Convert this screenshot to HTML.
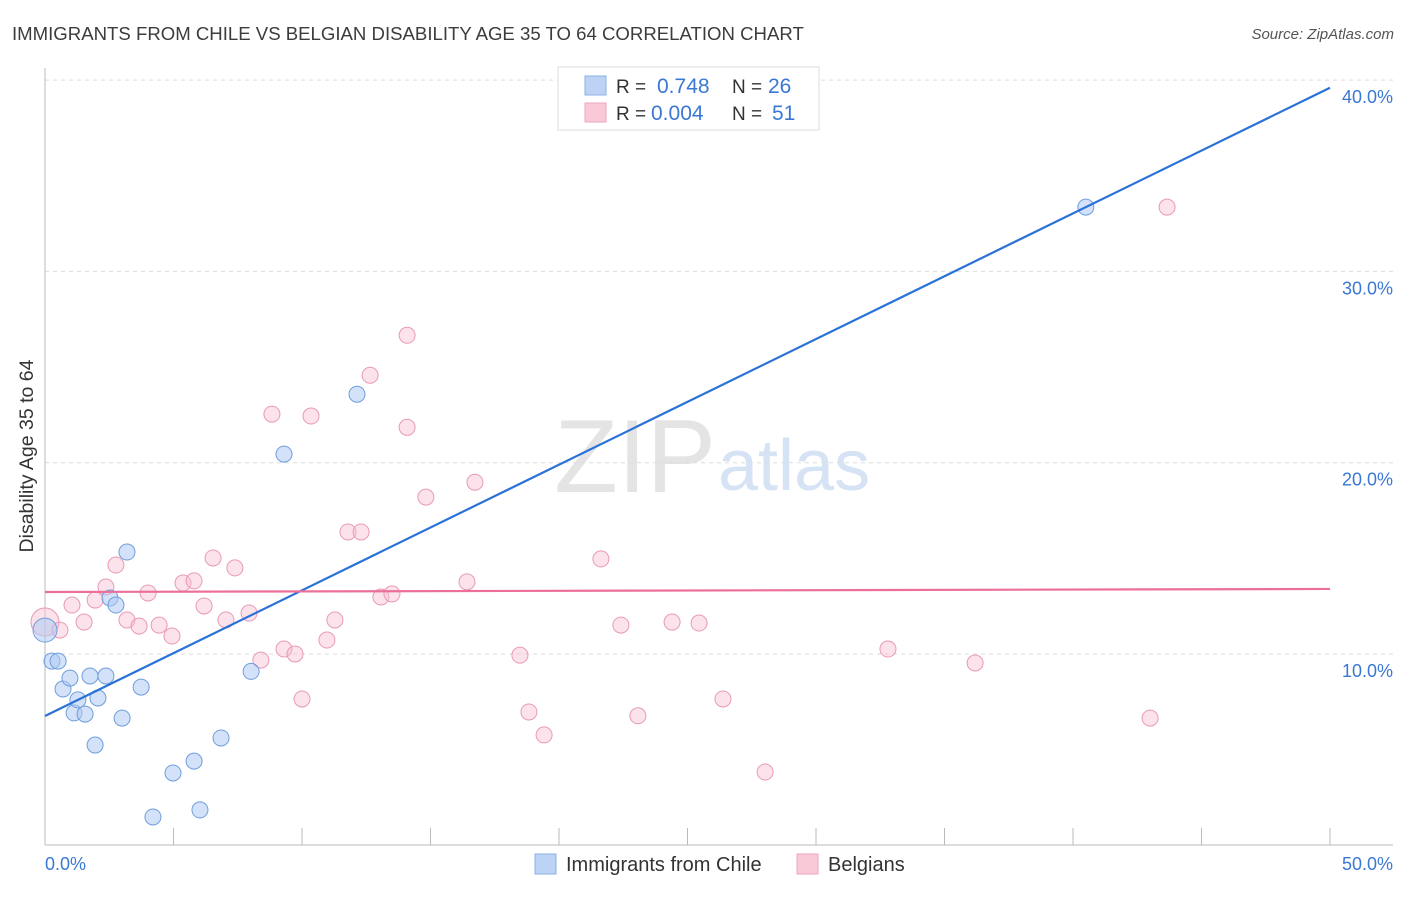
<!DOCTYPE html>
<html><head><meta charset="utf-8"><style>
body{margin:0;background:#fff;font-family:"Liberation Sans",sans-serif;}
svg text{font-family:"Liberation Sans",sans-serif;}
</style></head><body>
<svg id="chart" width="1406" height="892" xmlns="http://www.w3.org/2000/svg">
<text x="12" y="40" font-size="18.6" fill="#3c3c3c">IMMIGRANTS FROM CHILE VS BELGIAN DISABILITY AGE 35 TO 64 CORRELATION CHART</text>
<text x="1394" y="39" font-size="15" fill="#555" text-anchor="end" font-style="italic">Source: ZipAtlas.com</text>
<text x="716" y="492" font-size="104" fill="#e4e4e4" text-anchor="end" font-family="Liberation Serif">ZIP</text>
<text x="718" y="490" font-size="72" fill="#d6e3f5">atlas</text>
<g id="grid"></g>
<line x1="45" y1="68" x2="45" y2="845" stroke="#bbb"/>
<line x1="45" y1="845" x2="1393" y2="845" stroke="#bbb"/>
<text transform="translate(33,456) rotate(-90)" font-size="19.5" fill="#333" text-anchor="middle">Disability Age 35 to 64</text>
<text x="45" y="870" font-size="18" fill="#3a78d4">0.0%</text>
<text x="1393" y="870" font-size="18" fill="#3a78d4" text-anchor="end">50.0%</text>
<g id="points"></g>
<g id="lines"></g>
<g>
<rect x="558" y="67" width="261" height="63" fill="#fff" stroke="#ddd"/>
<rect x="585" y="76" width="21" height="19" fill="#bcd3f5" stroke="#8ab0e4"/>
<rect x="585" y="103" width="21" height="19" fill="#f9c9d8" stroke="#eea6c0"/>
<text x="616" y="93" font-size="19" fill="#333">R = </text><text x="657" y="93" font-size="21" fill="#3a78d4">0.748</text>
<text x="732" y="93" font-size="19" fill="#333">N = </text><text x="768" y="93" font-size="21" fill="#3a78d4">26</text>
<text x="616" y="120" font-size="19" fill="#333">R = </text><text x="651" y="120" font-size="21" fill="#3a78d4">0.004</text>
<text x="732" y="120" font-size="19" fill="#333">N = </text><text x="772" y="120" font-size="21" fill="#3a78d4">51</text>
</g>
<g>
<rect x="535" y="854" width="21" height="20" fill="#bcd3f5" stroke="#8ab0e4"/>
<text x="566" y="871" font-size="20" fill="#333">Immigrants from Chile</text>
<rect x="797" y="854" width="21" height="20" fill="#f9c9d8" stroke="#eea6c0"/>
<text x="828" y="871" font-size="20" fill="#333">Belgians</text>
</g>
</svg>
<script>
const yTicks=[10,20,30,40];
const yTickLabels=["10.0%","20.0%","30.0%","40.0%"];
const xTicks=[0,5,10,15,20,25,30,35,40,45,50];
const chileX=[0,0.27,0.51,0.70,0.97,1.13,1.28,1.56,1.75,1.95,2.06,2.37,2.53,2.76,3.0,3.19,3.74,4.2,4.98,5.8,6.03,6.85,8.02,9.3,12.14,40.5];
const chileY=[11.25,9.63,9.63,8.17,8.74,6.92,7.6,6.86,8.85,5.24,7.7,8.85,12.93,12.56,6.65,15.33,8.27,1.48,3.78,4.4,1.85,5.61,9.09,20.45,23.58,33.36];
const belX=[0,0.58,1.05,1.52,1.95,2.37,2.76,3.19,3.66,4.01,4.44,4.94,5.37,5.8,6.19,6.54,7.04,7.39,7.94,8.4,8.83,9.3,9.73,10.0,10.35,10.97,11.28,11.79,12.3,12.65,13.07,13.5,14.09,14.09,14.82,16.42,16.73,18.48,18.83,19.42,21.63,22.41,23.07,24.4,25.45,26.38,28.02,32.8,36.19,43.0,43.66];
const belY=[11.67,11.25,12.56,11.67,12.82,13.5,14.65,11.78,11.46,13.19,11.51,10.94,13.71,13.82,12.51,15.02,11.78,14.5,12.14,9.68,22.54,10.26,10.0,7.65,22.44,10.73,11.78,16.38,16.38,24.57,12.98,13.14,26.66,21.85,18.2,13.77,18.98,9.94,6.97,5.77,14.97,11.51,6.77,11.67,11.62,7.65,3.83,10.26,9.53,6.65,33.36];
const chileLine=[6.76,39.6];
const belLine=[13.24,13.4];
const NS="http://www.w3.org/2000/svg";
function sx(v){return 45+v*25.7;}
function sy(v){return 845.3-v*19.13;}
function mk(tag,attrs,parent){const e=document.createElementNS(NS,tag);for(const k in attrs)e.setAttribute(k,attrs[k]);parent.appendChild(e);return e;}
const grid=document.getElementById('grid');
yTicks.forEach((t,i)=>{
  const l=mk('line',{x1:45,x2:1393,y1:sy(t),y2:sy(t),stroke:'#ddd','stroke-dasharray':'4,4'},grid);
  
  
  const tx=mk('text',{x:1393,y:sy(t)+23,'font-size':18,fill:'#3a78d4','text-anchor':'end'},grid);
  tx.textContent=yTickLabels[i];
  
  
});
xTicks.forEach(t=>{
  const l=mk('line',{x1:sx(t),x2:sx(t),y1:828,y2:845,stroke:'#bbb'},grid);
  
  
});
const pts=document.getElementById('points');
belX.forEach((x,i)=>{
  const c=mk('circle',{cx:sx(x),cy:sy(belY[i]),r:i==0?14:8,fill:'rgba(247,190,210,0.45)',stroke:'#e99ab6','stroke-width':1},pts);
  
  
});
chileX.forEach((x,i)=>{
  const c=mk('circle',{cx:sx(x),cy:sy(chileY[i]),r:i==0?12:8,fill:'rgba(175,202,242,0.55)',stroke:'#6f9edc','stroke-width':1},pts);
  
  
});
const lines=document.getElementById('lines');
const l1=mk('line',{x1:sx(0),y1:sy(chileLine[0]),x2:sx(50),y2:sy(chileLine[1]),stroke:'#2a72d8','stroke-width':2.2},lines);


const l2=mk('line',{x1:sx(0),y1:sy(belLine[0]),x2:sx(50),y2:sy(belLine[1]),stroke:'#ec6f9a','stroke-width':2.2},lines);


</script>
</body></html>
